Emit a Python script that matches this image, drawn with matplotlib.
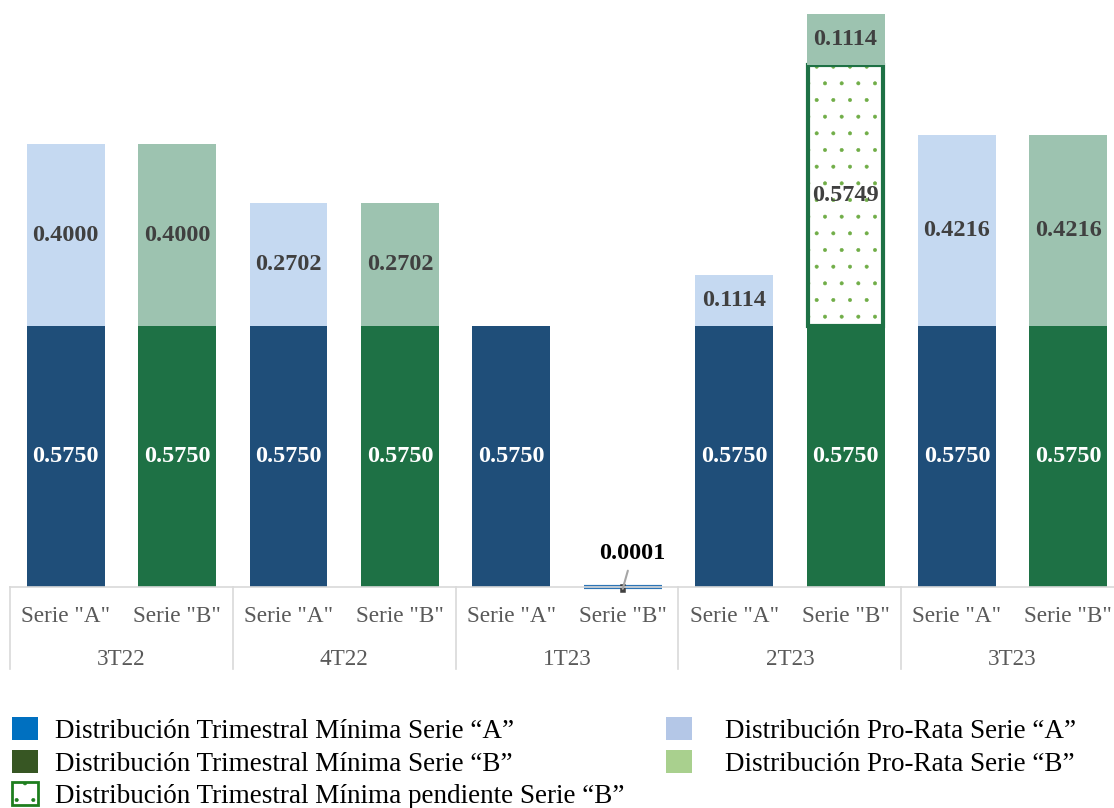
import matplotlib.pyplot as plt
from matplotlib.patches import Patch

plt.rcParams["font.family"] = ["Liberation Serif", "DejaVu Serif"]

# data
groups = ["3T22", "4T22", "1T23", "2T23", "3T23"]
series = ['Serie "A"', 'Serie "B"'] * 5
minima = [0.5750, 0.5750, 0.5750, 0.5750, 0.5750, 0.0001, 0.5750, 0.5750, 0.5750, 0.5750]
pending = [0, 0, 0, 0, 0, 0, 0, 0.5749, 0, 0]
prorata = [0.4000, 0.4000, 0.2702, 0.2702, 0, 0, 0.1114, 0.1114, 0.4216, 0.4216]

DARK_BLUE = "#1F4E79"
DARK_GREEN = "#1E7145"
LIGHT_BLUE = "#C5D9F1"
LIGHT_GREEN = "#9DC3B0"
LABEL_GRAY = "#404040"
AXIS_GRAY = "#D9D9D9"

W, H = 1114, 808
fig = plt.figure(figsize=(W / 100, H / 100), dpi=100)
ax = fig.add_axes([10 / W, 1 - 587 / H, 1104 / W, 587 / H])

x = list(range(len(minima)))
width = 0.70
min_colors = [DARK_BLUE if i % 2 == 0 else DARK_GREEN for i in x]
min_colors[5] = DARK_BLUE
pro_colors = [LIGHT_BLUE if i % 2 == 0 else LIGHT_GREEN for i in x]

ax.bar(x, minima, width, color=min_colors, linewidth=0)
# the near-zero bar is drawn as a thin line
ax.bar(5, minima[5], width, color="#2E75B6", edgecolor="#2E75B6", linewidth=3,
       clip_on=False)

# pending dotted segment (only where there is something pending)
plt.rcParams["hatch.linewidth"] = 0.4
pend_x = [i for i in x if pending[i] > 0]
pend_h = [pending[i] for i in pend_x]
pend_b = [minima[i] for i in pend_x]
ax.bar(pend_x, pend_h, width, bottom=pend_b, facecolor="white", edgecolor="#70AD47",
       hatch=".", linewidth=0)
ax.bar(pend_x, pend_h, width * 0.97, bottom=pend_b, fill=False, edgecolor=DARK_GREEN,
       linewidth=3)

bottoms = [m + p for m, p in zip(minima, pending)]
ax.bar(x, prorata, width, bottom=bottoms, color=pro_colors, linewidth=0)

lab_font = dict(fontsize=17.5, fontweight="bold", ha="center", va="center")
for i in x:
    if minima[i] > 0.01:
        ax.text(i, minima[i] / 2, f"{minima[i]:.4f}", color="white", **lab_font)
    if pending[i] > 0:
        ax.text(i, minima[i] + pending[i] / 2, f"{pending[i]:.4f}", color=LABEL_GRAY, **lab_font)
    if prorata[i] > 0:
        ax.text(i, bottoms[i] + prorata[i] / 2, f"{prorata[i]:.4f}", color=LABEL_GRAY, **lab_font)

# small value with leader line
ax.annotate(f"{minima[5]:.4f}", xy=(5, -0.004), xytext=(5.09, 0.074),
            fontsize=17.5, fontweight="bold", ha="center", va="center", color="black",
            annotation_clip=False,
            arrowprops=dict(arrowstyle="-", color="#A6A6A6", lw=1.5,
                            shrinkA=3, shrinkB=0))
ax.plot([5, 5], [-0.006, 0.0], color="#404040", lw=4, clip_on=False)

ax.set_xlim(-0.5, 9.41)
ax.set_ylim(0, 1.293)
for s in ["top", "right", "left"]:
    ax.spines[s].set_visible(False)
ax.spines["bottom"].set_color(AXIS_GRAY)
ax.spines["bottom"].set_linewidth(1.2)
ax.set_yticks([])
ax.set_xticks(x)
ax.set_xticklabels(series, fontsize=16.7, color="#595959")
ax.tick_params(axis="x", length=0, pad=14)

# group labels and separators
for g, name in enumerate(groups):
    ax.text(2 * g + 0.5, -0.16, name, fontsize=16.7,
            color="#595959", ha="center", va="center", clip_on=False)
for b in range(5):
    ax.plot([2 * b - 0.5, 2 * b - 0.5], [0, -0.18], color=AXIS_GRAY, lw=1.2,
            clip_on=False)

# legends
leg1_handles = [
    Patch(facecolor="#0070C0", edgecolor="none"),
    Patch(facecolor="#375623", edgecolor="none"),
    Patch(facecolor="white", edgecolor="#1E7E1E", hatch=".", linewidth=2),
]
leg1_labels = [
    "Distribución Trimestral Mínima Serie “A”",
    "Distribución Trimestral Mínima Serie “B”",
    "Distribución Trimestral Mínima pendiente Serie “B”",
]
leg2_handles = [
    Patch(facecolor="#B4C7E7", edgecolor="none"),
    Patch(facecolor="#A9D08E", edgecolor="none"),
]
leg2_labels = [
    "Distribución Pro-Rata Serie “A”",
    "Distribución Pro-Rata Serie “B”",
]
fig.legend(leg1_handles, leg1_labels, loc="upper left",
           bbox_to_anchor=(4 / W, 1 - 709 / H), frameon=False, fontsize=19.5,
           handlelength=0.95, handleheight=0.95, handletextpad=0.63,
           labelspacing=0.2, borderaxespad=0, borderpad=0.3)
fig.legend(leg2_handles, leg2_labels, loc="upper left",
           bbox_to_anchor=(658 / W, 1 - 709 / H), frameon=False, fontsize=19.5,
           handlelength=0.95, handleheight=0.95, handletextpad=1.22,
           labelspacing=0.2, borderaxespad=0, borderpad=0.3)

fig.savefig("out.png", dpi=100)
